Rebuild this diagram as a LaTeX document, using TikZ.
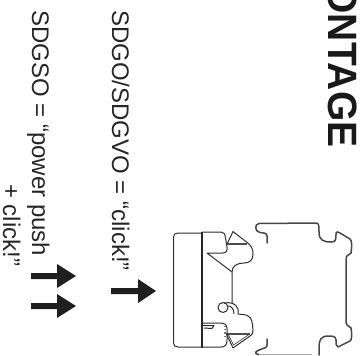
\documentclass[tikz,border=0pt]{standalone}
\usepackage{fontspec}
\setmainfont{Liberation Sans}
\tikzset{
  lab/.style={rotate=-90,anchor=base west,inner sep=0pt,font=\fontsize{24}{24}\selectfont,text=black!85},
  big/.style={rotate=-90,anchor=base east,inner sep=0pt,font=\fontsize{41}{41}\selectfont\bfseries,text=black!90,xscale=0.95},
  arrowshape/.style={fill=black!88,draw=none},
  rail/.style={draw=black!72,line width=1.5pt,line join=round,line cap=round},
  body/.style={draw=black!82,line width=1pt,line join=round},
  thin/.style={draw=black!70,line width=1pt,line join=round}
}
\begin{document}
\begin{tikzpicture}[x=1pt,y=-1pt]
\useasboundingbox (0,0) rectangle (363,355);
\clip (0,0) rectangle (363,355);
\node[big] (title) at (328,147.5) {MONTAGE};
\node[lab] (t1) at (112,10) {SDGO/SDGVO = “click!”};
\node[lab] (t2) at (32,10) {SDGSO = “power push};
\node[lab] (t3) at (3,184) {+ click!”};
% arrows
\path[arrowshape] (111,288)--(111,294)--(138,294)--(138,303)--(156,291)--(138,279)--(138,288)--cycle;
\path[arrowshape] (31,273)--(31,279)--(57,279)--(57,288)--(76,276)--(57,264)--(57,273)--cycle;
\path[arrowshape] (31,303)--(31,309)--(57,309)--(57,318)--(76,306)--(57,294)--(57,303)--cycle;
% rail
\draw[rail] (267,243) -- (267,236) .. controls (267,233) and (264,233) .. (260,232.5) .. controls (255,232) and (254,224) .. (259,223.5) -- (316,223) .. controls (319,223) and (319,226) .. (319,232) .. controls (319,240) and (323,242) .. (331,242) .. controls (336,242) and (336,240) .. (336,233) .. controls (336,231) and (338,232) .. (340,233) -- (350,239) .. controls (352,241) and (352,245) .. (351,253) -- (347,256) .. controls (346,257) and (346,260) .. (346,270) -- (346,318) .. controls (346,323) and (346,324) .. (347,325) -- (351,328) .. controls (352,334) and (352,340) .. (350,341) -- (338,347) .. controls (336,346) and (336,344) .. (336,340) .. controls (336,336) and (332,336) .. (328,336) .. controls (321,336) and (319,340) .. (319,347) -- (319,355);
\draw[rail] (267,339) -- (267,345) .. controls (267,348) and (264,348) .. (259,350) .. controls (254,352) and (255,354) .. (259,354.5);
\draw[draw=black!35,line width=1pt] (259,354.5)--(312,354.5);
% body
\draw[body] (202,233) -- (178,233) .. controls (175,233) and (173.5,234.5) .. (173.5,237) -- (173.5,343) .. controls (173.5,345.5) and (175,347) .. (178,347) -- (202,347);
\draw[draw=black!85,line width=1.5pt] (202,232) -- (202,347.5);
% upper block
\draw[body] (202,232) -- (221,232) .. controls (224,232) and (225,234) .. (225.5,238) -- (227,247) .. controls (227.5,251) and (226,253) .. (223,253) -- (207,253) -- (232,272);
% upper hook and stem
\draw[body] (227,244) -- (233,231.5) -- (249,244) .. controls (252,247) and (253,250) .. (253,254) .. controls (253,260) and (250,263) .. (244,263) .. controls (237,263) and (232,266) .. (232,272) -- (232,303);
\draw[thin,line width=1.3pt] (227,244) -- (247,244);
% clip loop
\draw[body] (223,307.5) circle[radius=5];
\draw[body] (224,303) .. controls (230,302) and (236,303) .. (238,309) -- (238,314);
\draw[body] (227,306) .. controls (231,305) and (234,309) .. (234,314);
% lower hook
\draw[body] (238,314) -- (243,314.5) .. controls (250,315) and (252,319) .. (252.5,325) -- (253,331) .. controls (253,333) and (252,335) .. (250,336) -- (233,348) -- (226,333);
\draw[thin,line width=0.7pt] (249,334.5) -- (233.5,345) -- (228,334);
\draw[thin,line width=1.3pt] (227,334) -- (250,334);
% lower block
\draw[body] (202,323) -- (222,323) .. controls (225,323) and (227,325) .. (227,329) -- (227,340) .. controls (227,345) and (225,347) .. (221,347) -- (202,347);
\draw[body] (203,325.5) -- (214,325.5) -- (212,328.5) -- (204,328);
\draw[draw=black!55,line width=1.2pt,dotted] (225,326) -- (225,336);
\end{tikzpicture}
\end{document}
